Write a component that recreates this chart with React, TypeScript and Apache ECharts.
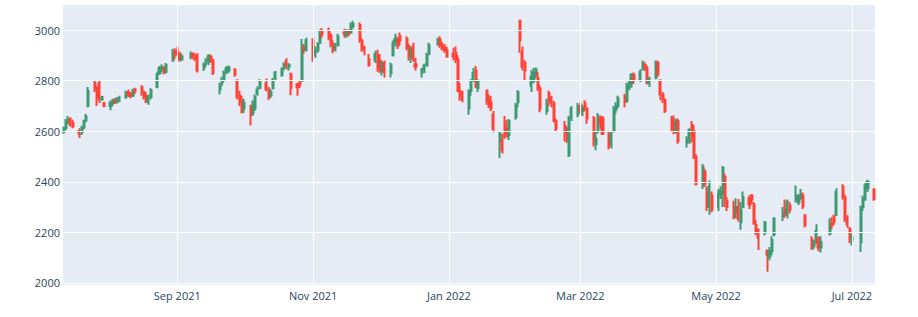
import React, { useEffect, useRef } from "react";
import * as echarts from "echarts";

// [date, open, close, low, high]
type Row = [string, number, number, number, number];

const jul21: Row[] = [
  ["2021-07-12", 2598, 2612, 2590, 2618],
  ["2021-07-13", 2612, 2638, 2605, 2648],
  ["2021-07-14", 2640, 2648, 2628, 2660],
  ["2021-07-15", 2648, 2628, 2618, 2655],
  ["2021-07-16", 2632, 2620, 2612, 2645],
  ["2021-07-19", 2600, 2590, 2573, 2612],
  ["2021-07-20", 2595, 2615, 2585, 2622],
  ["2021-07-21", 2615, 2640, 2608, 2645],
  ["2021-07-22", 2642, 2658, 2635, 2668],
  ["2021-07-23", 2700, 2760, 2695, 2775],
  ["2021-07-26", 2790, 2770, 2755, 2800],
  ["2021-07-27", 2770, 2735, 2700, 2778],
  ["2021-07-28", 2790, 2728, 2712, 2800],
  ["2021-07-29", 2725, 2735, 2720, 2740],
  ["2021-07-30", 2712, 2700, 2695, 2715],
];

const aug21: Row[] = [
  ["2021-08-02", 2700, 2712, 2683, 2722],
  ["2021-08-03", 2712, 2722, 2700, 2728],
  ["2021-08-04", 2722, 2715, 2708, 2730],
  ["2021-08-05", 2715, 2728, 2710, 2735],
  ["2021-08-06", 2725, 2730, 2715, 2740],
  ["2021-08-09", 2735, 2752, 2728, 2760],
  ["2021-08-10", 2755, 2745, 2735, 2765],
  ["2021-08-11", 2750, 2740, 2730, 2755],
  ["2021-08-12", 2740, 2760, 2735, 2768],
  ["2021-08-13", 2765, 2758, 2745, 2772],
  ["2021-08-16", 2775, 2760, 2740, 2782],
  ["2021-08-17", 2755, 2738, 2725, 2760],
  ["2021-08-18", 2740, 2722, 2712, 2755],
  ["2021-08-19", 2715, 2735, 2705, 2745],
  ["2021-08-20", 2735, 2762, 2725, 2770],
  ["2021-08-23", 2775, 2825, 2770, 2835],
  ["2021-08-24", 2830, 2850, 2822, 2858],
  ["2021-08-25", 2848, 2852, 2835, 2865],
  ["2021-08-26", 2848, 2832, 2825, 2858],
  ["2021-08-27", 2835, 2862, 2828, 2870],
  ["2021-08-30", 2880, 2915, 2875, 2925],
  ["2021-08-31", 2915, 2900, 2885, 2928],
];

const sep21: Row[] = [
  ["2021-09-01", 2920, 2905, 2895, 2935],
  ["2021-09-02", 2905, 2885, 2875, 2915],
  ["2021-09-03", 2885, 2895, 2878, 2905],
  ["2021-09-07", 2895, 2905, 2885, 2915],
  ["2021-09-08", 2905, 2900, 2885, 2912],
  ["2021-09-09", 2898, 2890, 2878, 2908],
  ["2021-09-10", 2900, 2840, 2832, 2908],
  ["2021-09-13", 2850, 2862, 2838, 2872],
  ["2021-09-14", 2868, 2878, 2855, 2888],
  ["2021-09-15", 2880, 2895, 2862, 2905],
  ["2021-09-16", 2895, 2882, 2870, 2902],
  ["2021-09-17", 2880, 2830, 2822, 2886],
  ["2021-09-20", 2765, 2780, 2745, 2792],
  ["2021-09-21", 2790, 2800, 2778, 2815],
  ["2021-09-22", 2805, 2830, 2795, 2840],
  ["2021-09-23", 2835, 2848, 2825, 2857],
  ["2021-09-24", 2840, 2852, 2830, 2860],
  ["2021-09-27", 2842, 2825, 2815, 2850],
  ["2021-09-28", 2800, 2735, 2725, 2805],
  ["2021-09-29", 2740, 2720, 2700, 2760],
  ["2021-09-30", 2722, 2680, 2670, 2740],
];

const oct21: Row[] = [
  ["2021-10-01", 2690, 2712, 2672, 2728],
  ["2021-10-04", 2700, 2665, 2623, 2705],
  ["2021-10-05", 2670, 2710, 2660, 2722],
  ["2021-10-06", 2690, 2735, 2680, 2745],
  ["2021-10-07", 2748, 2765, 2740, 2778],
  ["2021-10-08", 2772, 2795, 2765, 2805],
  ["2021-10-11", 2790, 2765, 2758, 2808],
  ["2021-10-12", 2765, 2735, 2723, 2775],
  ["2021-10-13", 2742, 2755, 2730, 2765],
  ["2021-10-14", 2770, 2800, 2765, 2810],
  ["2021-10-15", 2810, 2832, 2800, 2838],
  ["2021-10-18", 2822, 2845, 2815, 2852],
  ["2021-10-19", 2850, 2862, 2840, 2872],
  ["2021-10-20", 2878, 2860, 2845, 2888],
  ["2021-10-21", 2855, 2862, 2840, 2870],
  ["2021-10-22", 2825, 2772, 2742, 2832],
  ["2021-10-25", 2785, 2775, 2740, 2792],
  ["2021-10-26", 2790, 2785, 2770, 2800],
  ["2021-10-27", 2800, 2930, 2795, 2965],
  ["2021-10-28", 2932, 2922, 2905, 2945],
  ["2021-10-29", 2920, 2960, 2915, 2970],
];

const nov21: Row[] = [
  ["2021-11-01", 2960, 2900, 2875, 2968],
  ["2021-11-02", 2905, 2918, 2890, 2935],
  ["2021-11-03", 2920, 2945, 2910, 2952],
  ["2021-11-04", 2950, 2985, 2945, 3002],
  ["2021-11-05", 2995, 2982, 2970, 3008],
  ["2021-11-08", 2995, 2975, 2960, 3010],
  ["2021-11-09", 2978, 2950, 2932, 2988],
  ["2021-11-10", 2945, 2920, 2908, 2960],
  ["2021-11-11", 2925, 2935, 2915, 2950],
  ["2021-11-12", 2940, 2975, 2935, 2985],
  ["2021-11-15", 2990, 2985, 2970, 3005],
  ["2021-11-16", 2980, 2992, 2970, 3002],
  ["2021-11-17", 2992, 2985, 2975, 3002],
  ["2021-11-18", 2990, 3015, 2985, 3030],
  ["2021-11-19", 3015, 3025, 3005, 3037],
  ["2021-11-22", 3020, 2962, 2950, 3030],
  ["2021-11-23", 2958, 2930, 2915, 2968],
  ["2021-11-24", 2928, 2920, 2900, 2938],
  ["2021-11-26", 2885, 2862, 2855, 2905],
  ["2021-11-29", 2880, 2905, 2870, 2918],
  ["2021-11-30", 2900, 2850, 2835, 2922],
];

const dec21: Row[] = [
  ["2021-12-01", 2880, 2840, 2830, 2905],
  ["2021-12-02", 2835, 2870, 2820, 2880],
  ["2021-12-03", 2870, 2835, 2812, 2880],
  ["2021-12-06", 2830, 2860, 2812, 2872],
  ["2021-12-07", 2900, 2950, 2895, 2962],
  ["2021-12-08", 2950, 2965, 2935, 2985],
  ["2021-12-09", 2960, 2938, 2925, 2972],
  ["2021-12-10", 2975, 2960, 2940, 2990],
  ["2021-12-13", 2965, 2930, 2920, 2975],
  ["2021-12-14", 2935, 2895, 2880, 2945],
  ["2021-12-15", 2895, 2925, 2870, 2935],
  ["2021-12-16", 2935, 2885, 2875, 2950],
  ["2021-12-17", 2865, 2855, 2840, 2890],
  ["2021-12-20", 2830, 2845, 2812, 2850],
  ["2021-12-21", 2845, 2860, 2830, 2868],
  ["2021-12-22", 2860, 2900, 2855, 2910],
  ["2021-12-23", 2905, 2940, 2900, 2950],
  ["2021-12-27", 2945, 2962, 2938, 2970],
  ["2021-12-28", 2965, 2940, 2930, 2975],
  ["2021-12-29", 2945, 2930, 2920, 2955],
  ["2021-12-30", 2930, 2920, 2910, 2945],
  ["2021-12-31", 2920, 2895, 2890, 2935],
];

const jan22: Row[] = [
  ["2022-01-03", 2905, 2895, 2880, 2930],
  ["2022-01-04", 2910, 2885, 2870, 2935],
  ["2022-01-05", 2885, 2760, 2755, 2900],
  ["2022-01-06", 2760, 2745, 2720, 2790],
  ["2022-01-07", 2748, 2725, 2715, 2760],
  ["2022-01-10", 2690, 2760, 2665, 2765],
  ["2022-01-11", 2760, 2795, 2740, 2805],
  ["2022-01-12", 2805, 2830, 2795, 2850],
  ["2022-01-13", 2840, 2780, 2770, 2858],
  ["2022-01-14", 2770, 2795, 2755, 2805],
  ["2022-01-18", 2760, 2720, 2705, 2765],
  ["2022-01-19", 2725, 2705, 2692, 2745],
  ["2022-01-20", 2715, 2690, 2680, 2740],
  ["2022-01-21", 2665, 2610, 2595, 2680],
  ["2022-01-24", 2560, 2590, 2494, 2600],
  ["2022-01-25", 2565, 2525, 2512, 2590],
  ["2022-01-26", 2620, 2590, 2570, 2660],
  ["2022-01-27", 2610, 2580, 2575, 2645],
  ["2022-01-28", 2585, 2640, 2565, 2648],
  ["2022-01-31", 2655, 2700, 2645, 2712],
];

const feb22: Row[] = [
  ["2022-02-01", 2715, 2755, 2695, 2762],
  ["2022-02-02", 3037, 2960, 2910, 3040],
  ["2022-02-03", 2915, 2855, 2840, 2935],
  ["2022-02-04", 2870, 2840, 2800, 2882],
  ["2022-02-07", 2780, 2815, 2755, 2842],
  ["2022-02-08", 2800, 2830, 2790, 2850],
  ["2022-02-09", 2820, 2845, 2810, 2852],
  ["2022-02-10", 2810, 2770, 2760, 2835],
  ["2022-02-11", 2770, 2690, 2675, 2782],
  ["2022-02-14", 2680, 2710, 2665, 2728],
  ["2022-02-15", 2750, 2720, 2700, 2760],
  ["2022-02-16", 2730, 2715, 2695, 2740],
  ["2022-02-17", 2710, 2640, 2635, 2720],
  ["2022-02-18", 2640, 2610, 2600, 2650],
  ["2022-02-22", 2620, 2595, 2560, 2640],
  ["2022-02-23", 2610, 2565, 2553, 2620],
  ["2022-02-24", 2505, 2650, 2498, 2660],
  ["2022-02-25", 2655, 2690, 2640, 2700],
  ["2022-02-28", 2670, 2700, 2655, 2712],
];

const mar22: Row[] = [
  ["2022-03-01", 2700, 2680, 2665, 2715],
  ["2022-03-02", 2680, 2692, 2660, 2705],
  ["2022-03-03", 2710, 2695, 2680, 2722],
  ["2022-03-04", 2690, 2650, 2630, 2695],
  ["2022-03-07", 2650, 2560, 2540, 2660],
  ["2022-03-08", 2548, 2570, 2525, 2600],
  ["2022-03-09", 2600, 2660, 2590, 2672],
  ["2022-03-10", 2650, 2632, 2610, 2662],
  ["2022-03-11", 2650, 2590, 2585, 2660],
  ["2022-03-14", 2590, 2540, 2528, 2600],
  ["2022-03-15", 2550, 2590, 2532, 2600],
  ["2022-03-16", 2605, 2690, 2595, 2700],
  ["2022-03-17", 2685, 2700, 2670, 2715],
  ["2022-03-18", 2700, 2730, 2690, 2740],
  ["2022-03-21", 2735, 2718, 2695, 2748],
  ["2022-03-22", 2720, 2780, 2712, 2792],
  ["2022-03-23", 2770, 2790, 2762, 2802],
  ["2022-03-24", 2790, 2822, 2772, 2830],
  ["2022-03-25", 2822, 2805, 2788, 2832],
  ["2022-03-28", 2805, 2835, 2795, 2845],
  ["2022-03-29", 2850, 2865, 2840, 2880],
  ["2022-03-30", 2862, 2852, 2838, 2875],
  ["2022-03-31", 2850, 2792, 2785, 2862],
];

const apr22: Row[] = [
  ["2022-04-01", 2790, 2805, 2775, 2815],
  ["2022-04-04", 2810, 2870, 2805, 2880],
  ["2022-04-05", 2870, 2825, 2815, 2880],
  ["2022-04-06", 2800, 2745, 2722, 2805],
  ["2022-04-07", 2745, 2730, 2712, 2755],
  ["2022-04-08", 2722, 2680, 2672, 2730],
  ["2022-04-11", 2650, 2610, 2600, 2660],
  ["2022-04-12", 2635, 2600, 2588, 2662],
  ["2022-04-13", 2600, 2640, 2590, 2650],
  ["2022-04-14", 2640, 2560, 2550, 2650],
  ["2022-04-18", 2555, 2565, 2535, 2580],
  ["2022-04-19", 2560, 2605, 2550, 2612],
  ["2022-04-20", 2625, 2580, 2555, 2640],
  ["2022-04-21", 2600, 2500, 2490, 2625],
  ["2022-04-22", 2500, 2390, 2385, 2510],
  ["2022-04-25", 2385, 2460, 2372, 2470],
  ["2022-04-26", 2440, 2392, 2380, 2452],
  ["2022-04-27", 2360, 2300, 2285, 2382],
  ["2022-04-28", 2300, 2380, 2270, 2405],
  ["2022-04-29", 2345, 2290, 2280, 2362],
];

const may22: Row[] = [
  ["2022-05-02", 2300, 2350, 2285, 2372],
  ["2022-05-03", 2350, 2362, 2332, 2382],
  ["2022-05-04", 2355, 2455, 2300, 2462],
  ["2022-05-05", 2420, 2330, 2300, 2432],
  ["2022-05-06", 2325, 2300, 2285, 2340],
  ["2022-05-09", 2300, 2262, 2252, 2325],
  ["2022-05-10", 2280, 2300, 2255, 2335],
  ["2022-05-11", 2300, 2255, 2242, 2332],
  ["2022-05-12", 2240, 2290, 2210, 2320],
  ["2022-05-13", 2300, 2340, 2295, 2362],
  ["2022-05-16", 2335, 2310, 2292, 2348],
  ["2022-05-17", 2345, 2330, 2312, 2352],
  ["2022-05-18", 2310, 2240, 2230, 2320],
  ["2022-05-19", 2230, 2205, 2190, 2250],
  ["2022-05-20", 2210, 2180, 2130, 2215],
  ["2022-05-23", 2200, 2240, 2188, 2245],
  ["2022-05-24", 2127, 2112, 2044, 2132],
  ["2022-05-25", 2105, 2125, 2090, 2142],
  ["2022-05-26", 2125, 2170, 2110, 2185],
  ["2022-05-27", 2190, 2255, 2185, 2260],
  ["2022-05-31", 2262, 2280, 2245, 2300],
];

const jun22: Row[] = [
  ["2022-06-01", 2290, 2270, 2258, 2330],
  ["2022-06-02", 2270, 2322, 2255, 2330],
  ["2022-06-03", 2305, 2290, 2275, 2320],
  ["2022-06-06", 2330, 2345, 2318, 2385],
  ["2022-06-07", 2320, 2342, 2308, 2352],
  ["2022-06-08", 2338, 2350, 2328, 2372],
  ["2022-06-09", 2345, 2302, 2292, 2358],
  ["2022-06-10", 2268, 2228, 2220, 2272],
  ["2022-06-13", 2172, 2140, 2130, 2185],
  ["2022-06-14", 2145, 2155, 2132, 2170],
  ["2022-06-15", 2160, 2205, 2155, 2232],
  ["2022-06-16", 2175, 2140, 2125, 2185],
  ["2022-06-17", 2140, 2162, 2120, 2185],
  ["2022-06-21", 2195, 2235, 2188, 2255],
  ["2022-06-22", 2235, 2228, 2212, 2260],
  ["2022-06-23", 2262, 2240, 2228, 2270],
  ["2022-06-24", 2270, 2360, 2265, 2375],
  ["2022-06-27", 2380, 2342, 2330, 2390],
  ["2022-06-28", 2340, 2255, 2242, 2350],
  ["2022-06-29", 2250, 2232, 2218, 2268],
  ["2022-06-30", 2212, 2180, 2158, 2222],
];

const jul22: Row[] = [
  ["2022-07-01", 2170, 2182, 2148, 2195],
  ["2022-07-05", 2160, 2300, 2122, 2305],
  ["2022-07-06", 2300, 2330, 2285, 2345],
  ["2022-07-07", 2330, 2385, 2325, 2395],
  ["2022-07-08", 2375, 2400, 2360, 2408],
  ["2022-07-11", 2370, 2332, 2325, 2375],
];

const yTicks = [2000, 2200, 2400, 2600, 2800, 3000];
const xTickDates = ["2021-09-01", "2021-11-01", "2022-01-01", "2022-03-01", "2022-05-01", "2022-07-01"];
const MONTHS = ["Jan", "Feb", "Mar", "Apr", "May", "Jun", "Jul", "Aug", "Sep", "Oct", "Nov", "Dec"];

function toTime(s: string): number {
  const [y, m, d] = s.split("-").map(Number);
  return new Date(y, m - 1, d).getTime();
}

export default function App() {
  const ref = useRef<HTMLDivElement>(null);

  useEffect(() => {
    if (!ref.current) return;
    const chart = echarts.init(ref.current, undefined, { renderer: "svg" });
    const rows: Row[] = [
      ...jul21, ...aug21, ...sep21, ...oct21, ...nov21, ...dec21,
      ...jan22, ...feb22, ...mar22, ...apr22, ...may22, ...jun22, ...jul22,
    ];
    const data = rows.map((r) => [toTime(r[0]), r[1], r[2], r[3], r[4]]);
    const xTicks = xTickDates.map(toTime);
    const xMin = new Date(2021, 6, 11, 16).getTime();
    const xMax = new Date(2022, 6, 11, 9).getTime();
    const font = { color: "#2a3f5f", fontFamily: "'Open Sans', sans-serif", fontSize: 11 };

    chart.setOption({
      animation: false,
      backgroundColor: "#ffffff",
      grid: {
        left: 63, right: 43, top: 5, bottom: 32,
        show: true, backgroundColor: "#E5ECF6", borderWidth: 0,
      },
      xAxis: {
        type: "value",
        min: xMin,
        max: xMax,
        axisLine: { show: false },
        axisTick: { show: false, customValues: xTicks },
        splitLine: { show: false },
        axisLabel: {
          ...font,
          customValues: xTicks,
          margin: 5,
          showMinLabel: true,
          showMaxLabel: true,
          hideOverlap: false,
          formatter: (v: number) => {
            const d = new Date(v);
            return `${MONTHS[d.getMonth()]} ${d.getFullYear()}`;
          },
        },
      },
      yAxis: {
        type: "value",
        min: 1992,
        max: 3099,
        axisLine: { show: false },
        axisTick: { show: false, customValues: yTicks },
        splitLine: { show: false },
        axisLabel: {
          ...font,
          customValues: yTicks,
          margin: 3,
          showMinLabel: true,
          showMaxLabel: true,
          formatter: (v: number) => String(v),
        },
      },
      series: [
        {
          type: "line",
          z: 1,
          silent: true,
          showSymbol: false,
          lineStyle: { opacity: 0 },
          data: [[xTicks[0], 2500]],
          markLine: {
            silent: true,
            animation: false,
            symbol: ["none", "none"],
            label: { show: false },
            lineStyle: { color: "#ffffff", width: 1, type: "solid" },
            data: [
              ...yTicks.map((v) => ({ yAxis: v })),
              ...xTicks.map((t) => ({ xAxis: t })),
            ],
          },
        },
        {
          type: "candlestick",
          z: 2,
          data,
          encode: { x: 0, y: [1, 2, 3, 4] },
          barWidth: 1.6,
          itemStyle: {
            color: "#3D9970",
            color0: "#FF4136",
            borderColor: "#3D9970",
            borderColor0: "#FF4136",
            borderWidth: 2,
          },
        },
      ],
    });

    return () => chart.dispose();
  }, []);

  return (
    <div
      ref={ref}
      style={{ position: "absolute", left: 0, top: 0, width: 918, height: 317 }}
    />
  );
}
